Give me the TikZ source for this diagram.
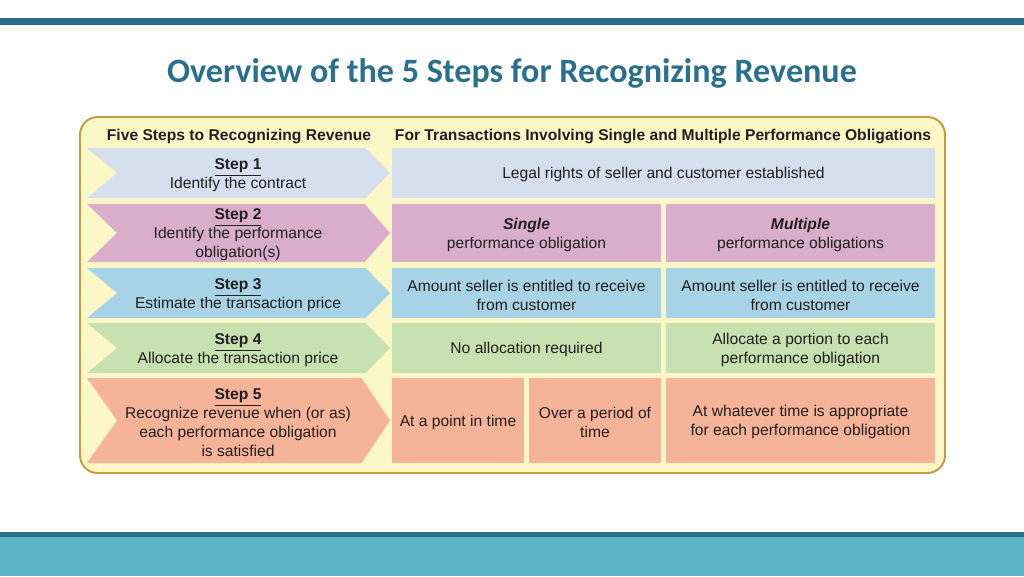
\documentclass[tikz,border=0pt]{standalone}
\usepackage{fontspec}
\setmainfont{Liberation Sans}
\newfontfamily\titlefont{Carlito}
\definecolor{barblue}{HTML}{2A6F8B}
\definecolor{footteal}{HTML}{5AB4C1}
\definecolor{panelfill}{HTML}{FCF7C6}
\definecolor{panelline}{HTML}{C49B3E}
\definecolor{stepone}{HTML}{D5DFEE}
\definecolor{steptwo}{HTML}{D8AECB}
\definecolor{stepthree}{HTML}{A8D3E6}
\definecolor{stepfour}{HTML}{C8E1B1}
\definecolor{stepfive}{HTML}{F5B39A}
\definecolor{inkgrey}{HTML}{231F20}
\tikzset{txt/.style={font=\fontsize{8.9}{10.8}\selectfont, text=inkgrey, align=center, inner sep=0pt, yshift=-1.1pt},
    hdr/.style={txt, font=\fontsize{8.9}{10.8}\selectfont\bfseries},
    }
\newcommand{\steplabel}[1]{\underline{\textbf{Step #1}}}

\begin{document}
\begin{tikzpicture}[x=0.02cm, y=-0.02cm]
	\useasboundingbox (0,0) rectangle (1024,576);
	% top and bottom bands
	\fill[barblue] (0,18) rectangle (1024,25);
	\fill[barblue] (0,532) rectangle (1024,537);
	\fill[footteal] (0,537) rectangle (1024,576);
	\node[font=\titlefont\fontsize{19.4}{23}\selectfont\bfseries, text=barblue, anchor=base] (title) at (512,82) {Overview of the 5 Steps for Recognizing Revenue};
	% panel
	\draw[panelline, fill=panelfill, line width=1.1pt, rounded corners=10] (80,117) rectangle (945,473);
	\node[hdr] (lefthead) at (239,135) {Five Steps to Recognizing Revenue};
	\node[hdr] (righthead) at (663,135) {For Transactions Involving Single and Multiple Performance Obligations};
	% chevrons
	\foreach \t/\b/\col in {148/198/stepone, 204/262/steptwo, 268/318/stepthree, 323/373/stepfour, 378/463/stepfive}{
		\pgfmathsetmacro\m{(\t+\b)/2}
		\pgfmathsetmacro\k{372-(\b-\t)/8}
		\fill[\col] (87,\t) -- (\k,\t) -- (390,\m) -- (\k,\b) -- (87,\b) -- (117,\m) -- cycle;
	}
	\node[txt] (s1) at (238,173) {\steplabel{1}\\Identify the contract};
	\node[txt] (s2) at (238,233) {\steplabel{2}\\Identify the performance\\obligation(s)};
	\node[txt] (s3) at (238,293) {\steplabel{3}\\Estimate the transaction price};
	\node[txt] (s4) at (238,348) {\steplabel{4}\\Allocate the transaction price};
	\node[txt] (s5) at (238,420.5) {\steplabel{5}\\Recognize revenue when (or as)\\each performance obligation\\is satisfied};
	% cells
	\fill[stepone] (392,148) rectangle (935,198);
	\fill[steptwo] (392,204) rectangle (661,262);
	\fill[steptwo] (666,204) rectangle (935,262);
	\fill[stepthree] (392,268) rectangle (661,318);
	\fill[stepthree] (666,268) rectangle (935,318);
	\fill[stepfour] (392,323) rectangle (661,373);
	\fill[stepfour] (666,323) rectangle (935,373);
	\fill[stepfive] (392,378) rectangle (524,463);
	\fill[stepfive] (529,378) rectangle (661,463);
	\fill[stepfive] (666,378) rectangle (935,463);
	\node[txt] (legal) at (663.5,173) {Legal rights of seller and customer established};
	\node[txt] (single) at (526.5,233) {\textbf{\itshape Single}\\performance obligation};
	\node[txt] (multiple) at (800.5,233) {\textbf{\itshape Multiple}\\performance obligations};
	\node[txt] (amtsingle) at (526.5,293) {Amount seller is entitled to receive\\from customer};
	\node[txt] (amtmulti) at (800.5,293) {Amount seller is entitled to receive\\from customer};
	\node[txt] (noalloc) at (526.5,348) {No allocation required};
	\node[txt] (alloc) at (800.5,348) {Allocate a portion to each\\performance obligation};
	\node[txt] (point) at (458,420.5) {At a point in time};
	\node[txt] (period) at (595,420.5) {Over a period of\\time};
	\node[txt] (whatever) at (800.5,420.5) {At whatever time is appropriate\\for each performance obligation};
\end{tikzpicture}
\end{document}
